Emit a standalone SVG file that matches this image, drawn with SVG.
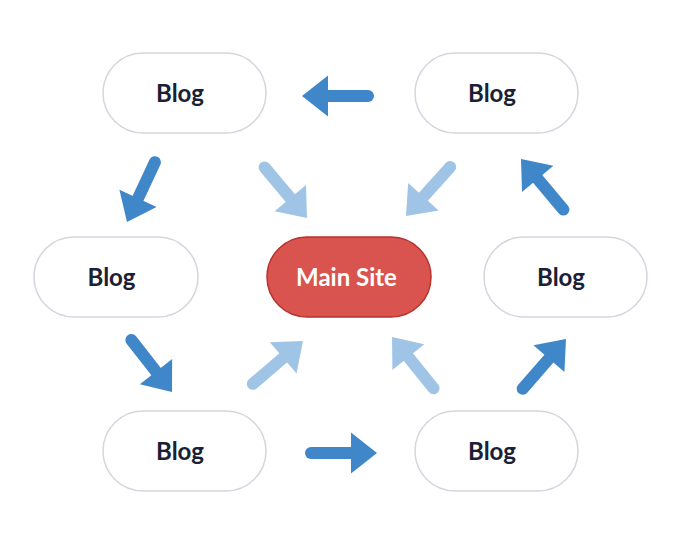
<svg xmlns="http://www.w3.org/2000/svg" width="700" height="543" viewBox="0 0 700 543">
<style>
.node rect{fill:#ffffff;stroke:#d3d6dd;stroke-width:1.5}
.main rect{fill:#d9534f;stroke:#b8322f;stroke-width:1.5}
text{font-family:Lato,"Liberation Sans",sans-serif;font-weight:bold;font-size:24px;text-anchor:middle}
.node text{fill:#1a2035}
.main text{fill:#ffffff}
.dark{fill:#3f87c8;stroke:#3f87c8}
.light{fill:#9fc4e6;stroke:#9fc4e6}
</style>
<defs>
<g id="arrow">
<line x1="-66" y1="0" x2="-22" y2="0" stroke-width="12" stroke-linecap="round"/>
<polygon points="0,0 -26,-20.5 -26,20.5" stroke="none"/>
</g>
</defs>
<rect width="700" height="543" fill="#ffffff"/>
<g id="connectors">
<use href="#arrow" class="dark" transform="translate(302,96) rotate(180)"/>
<use href="#arrow" class="dark" transform="translate(127,222) rotate(115)"/>
<use href="#arrow" class="dark" transform="translate(172,392) rotate(52)"/>
<use href="#arrow" class="dark" transform="translate(377,453)"/>
<use href="#arrow" class="dark" transform="translate(566,339) rotate(-49)"/>
<use href="#arrow" class="dark" transform="translate(521,159) rotate(-130)"/>
<use href="#arrow" class="light" transform="translate(307,218) rotate(50)"/>
<use href="#arrow" class="light" transform="translate(406,216) rotate(132)"/>
<use href="#arrow" class="light" transform="translate(303,341) rotate(-40.5)"/>
<use href="#arrow" class="light" transform="translate(392,337) rotate(-129)"/>
</g>
<g id="blog-top-left" class="node"><rect x="103" y="53" width="163" height="80" rx="40"/><text x="180" y="102">Blog</text></g>
<g id="blog-top-right" class="node"><rect x="415" y="53" width="163" height="80" rx="40"/><text x="492" y="102">Blog</text></g>
<g id="blog-mid-left" class="node"><rect x="34" y="237" width="164" height="80" rx="40"/><text x="111.5" y="286">Blog</text></g>
<g id="main-site" class="main"><rect x="267" y="237" width="164" height="80" rx="40"/><text x="346.5" y="286">Main Site</text></g>
<g id="blog-mid-right" class="node"><rect x="484" y="237" width="163" height="80" rx="40"/><text x="561" y="286">Blog</text></g>
<g id="blog-bottom-left" class="node"><rect x="103" y="411" width="163" height="80" rx="40"/><text x="180" y="460">Blog</text></g>
<g id="blog-bottom-right" class="node"><rect x="415" y="411" width="163" height="80" rx="40"/><text x="492" y="460">Blog</text></g>
</svg>
